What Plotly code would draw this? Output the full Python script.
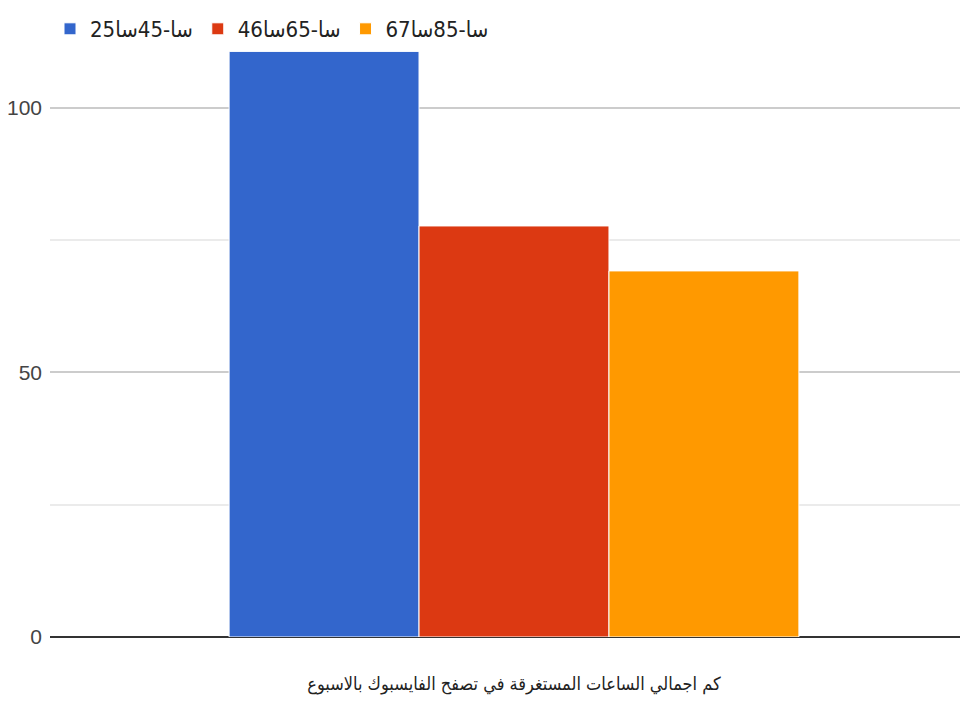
import plotly.graph_objects as go

category = ["كم اجمالي الساعات المستغرقة في تصفح الفايسبوك بالاسبوع"]
series_names = ["25سا-45سا", "46سا-65سا", "67سا-85سا"]
series_values = [[110.7], [77.7], [69.2]]
colors = ["#3366cc", "#dc3912", "#ff9900"]
tick_vals = [0, 50, 100]
minor_vals = [25, 75]

fig = go.Figure()
for name, vals, c in zip(series_names, series_values, colors):
    fig.add_trace(go.Bar(x=category, y=vals, name=name,
                         marker=dict(color=c, line=dict(color="white", width=1))))

FONT = "DejaVu Sans Condensed, Liberation Sans Narrow, Arial Narrow, sans-serif"
fig.update_layout(
    width=970, height=711,
    margin=dict(l=42, r=0, t=0, b=82, autoexpand=False),
    plot_bgcolor="white", paper_bgcolor="white",
    barmode="group", bargap=0.386, bargroupgap=0.0,
    font=dict(family=FONT, size=20, color="#222222"),
    legend=dict(orientation="h", x=0.0, xanchor="left", y=1.0, yanchor="top",
                bgcolor="rgba(0,0,0,0)", font=dict(size=22, color="#222222"),
                itemwidth=30, tracegroupgap=0),
    xaxis=dict(showgrid=False, showline=False, ticks="", automargin=False,
               tickfont=dict(size=18, color="#222222"), ticklabelstandoff=34),
    yaxis=dict(range=[0, 118.9], tickvals=tick_vals, automargin=False,
               showgrid=True, gridcolor="#cccccc", gridwidth=2,
               minor=dict(tickvals=minor_vals, showgrid=True, gridcolor="#ebebeb", gridwidth=2, ticks=""),
               zeroline=True, zerolinecolor="#333333", zerolinewidth=2,
               tickfont=dict(family="Liberation Sans, Arial, sans-serif", size=21, color="#444444"),
               ticks="", ticklabelstandoff=7),
    showlegend=True,
)
fig.write_html("out.html")
